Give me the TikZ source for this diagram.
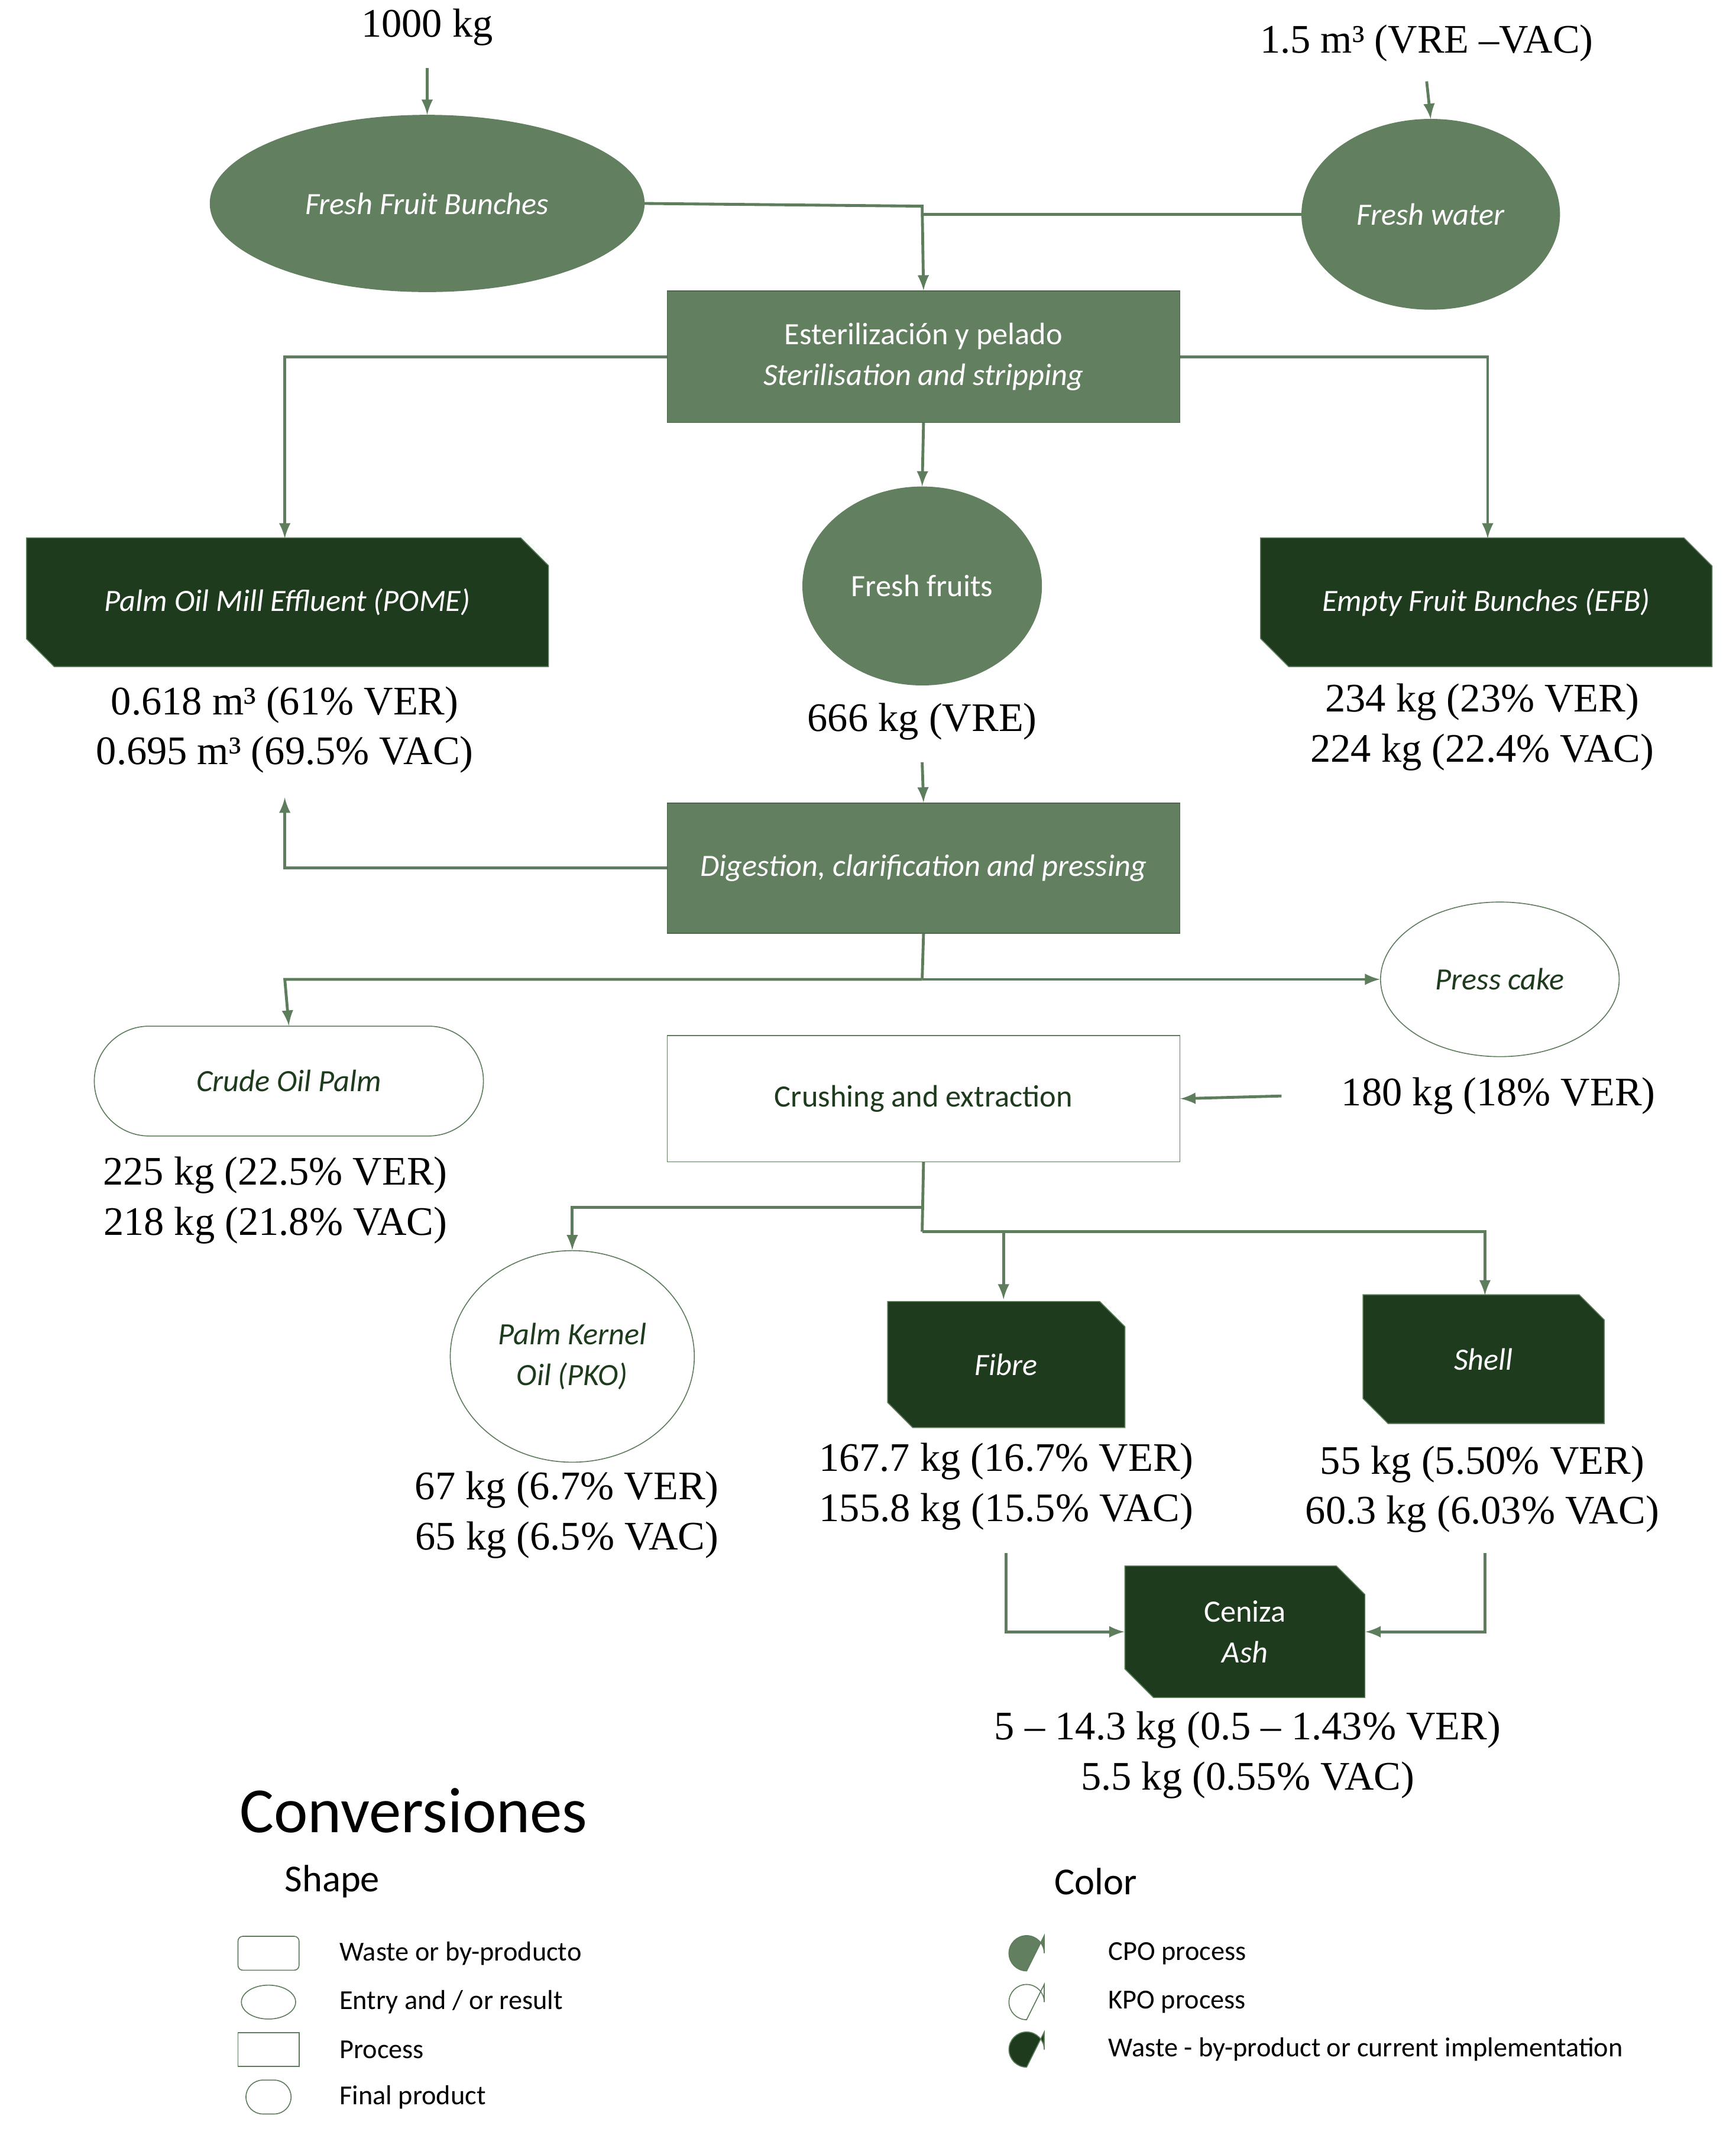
\documentclass[tikz,border=0pt]{standalone}
\usepackage{fontspec}
\setmainfont{Liberation Serif}
\newfontfamily\boxfont{Carlito}
\usetikzlibrary{shapes.geometric, shapes.misc}
\definecolor{cpo}{HTML}{62805F}
\definecolor{waste}{HTML}{1E3B1E}
\definecolor{wire}{HTML}{5E7D5C}
\tikzset{
  box/.style      = {font=\boxfont\fontsize{13}{17}\selectfont, align=center, inner sep=0pt},
  cpoell/.style   = {box, ellipse, fill=cpo, draw=cpo, text=white},
  kpoell/.style   = {box, ellipse, fill=white, draw=wire, text=waste},
  proc/.style     = {box, rectangle, fill=cpo, draw=cpo!80!black, text=white},
  kproc/.style    = {box, rectangle, fill=white, draw=wire, text=waste},
  wastebox/.style = {box, chamfered rectangle, chamfered rectangle corners={north east, south west},
                     chamfered rectangle xsep=6pt, chamfered rectangle ysep=6pt,
                     fill=waste, draw=wire, text=white},
  final/.style    = {box, rounded rectangle, fill=white, draw=wire, text=waste},
  qty/.style      = {font=\fontsize{17}{21}\selectfont, align=center, inner sep=0pt},
  legend/.style   = {font=\boxfont\fontsize{11.5}{14}\selectfont, anchor=west, inner sep=0pt},
  flow/.style     = {draw=wire, line width=1.2pt, -latex}
}
\begin{document}
\begin{tikzpicture}[x=0.02cm, y=-0.02cm]
  \useasboundingbox (0,0) rectangle (1280,1574);

  % inputs
  \node[qty] (kgin) at (315,20) {1000 kg};
  \node[qty] (wtin) at (1052,32) {1.5 m³ (VRE –VAC)};
  \node[cpoell, minimum width=320\pgflinewidth, minimum width=6.4cm, minimum height=2.6cm] (ffb) at (315,150) {\itshape Fresh Fruit Bunches};
  \node[cpoell, minimum width=3.8cm, minimum height=2.8cm] (water) at (1055,158) {\itshape Fresh water};
  \draw[flow] (315,50) -- (ffb.north);
  \draw[flow] (1052,60) -- (water.north);

  % sterilisation
  \node[proc, minimum width=7.56cm, minimum height=1.94cm] (steril) at (681,263)
    {Esterilización y pelado\\\itshape Sterilisation and stripping};
  \draw[flow] (ffb.east) -- (680,152) -- (steril.north);
  \draw[wire, line width=1.2pt] (water.west) -- (680,158);

  \node[wastebox, minimum width=7.7cm, minimum height=1.9cm] (pome) at (212,444) {\itshape Palm Oil Mill Effluent (POME)};
  \node[wastebox, minimum width=6.66cm, minimum height=1.9cm] (efb) at (1096,444) {\itshape Empty Fruit Bunches (EFB)};
  \node[cpoell, minimum width=3.52cm, minimum height=2.92cm] (fruits) at (680,432) {Fresh fruits};
  \draw[flow] (steril.west) -- (210,263) -- (210,397);
  \draw[flow] (steril.east) -- (1097,263) -- (1097,397);
  \draw[flow] (steril.south) -- (fruits.north);

  \node[qty] (pomeq) at (210,538) {0.618 m³ (61\% VER)\\0.695 m³ (69.5\% VAC)};
  \node[qty] (fruitq) at (680,532) {666 kg (VRE)};
  \node[qty] (efbq) at (1093,536) {234 kg (23\% VER)\\224 kg (22.4\% VAC)};

  % digestion
  \node[proc, minimum width=7.56cm, minimum height=1.92cm] (digest) at (681,640) {\itshape Digestion, clarification and pressing};
  \draw[flow] (680,562) -- (digest.north);
  \draw[flow] (digest.west) -- (210,640) -- (210,588);
  \coordinate (split1) at (680,722);
  \node[final, minimum width=5.74cm, minimum height=1.62cm] (cpoil) at (213,797) {\itshape Crude Oil Palm};
  \node[kpoell, minimum width=3.52cm, minimum height=2.28cm] (cake) at (1106,722) {\itshape Press cake};
  \draw[wire, line width=1.2pt] (digest.south) -- (split1);
  \draw[flow] (split1) -- (210,722) -- (cpoil.north);
  \draw[flow] (split1) -- (cake.west);

  % crushing
  \node[kproc, minimum width=7.56cm, minimum height=1.86cm] (crush) at (681,810) {Crushing and extraction};
  \node[qty] (cakeq) at (1105,808) {180 kg (18\% VER)};
  \coordinate (cakein) at (945,808);
  \draw[flow] (cakein) -- (crush.east);
  \node[qty] (cpoq) at (203,885) {225 kg (22.5\% VER)\\218 kg (21.8\% VAC)};

  \node[kpoell, minimum width=3.6cm, minimum height=3.12cm] (pko) at (422,1000) {\itshape Palm Kernel\\\itshape Oil (PKO)};
  \node[wastebox, minimum width=3.5cm, minimum height=1.86cm] (fibre) at (742,1006) {\itshape Fibre};
  \node[wastebox, minimum width=3.56cm, minimum height=1.9cm] (shell) at (1094,1002) {\itshape Shell};
  \draw[wire, line width=1.2pt] (crush.south) -- (680,908);
  \draw[flow] (680,890) -- (422,890) -- (pko.north);
  \draw[flow] (680,908) -- (740,908) -- (740,958);
  \draw[flow] (740,908) -- (1095,908) -- (1095,955);

  \node[qty] (pkoq) at (418,1117) {67 kg (6.7\% VER)\\65 kg (6.5\% VAC)};
  \node[qty] (fibreq) at (742,1096) {167.7 kg (16.7\% VER)\\155.8 kg (15.5\% VAC)};
  \node[qty] (shellq) at (1093,1098) {55 kg (5.50\% VER)\\60.3 kg (6.03\% VAC)};

  % ash
  \node[wastebox, minimum width=3.54cm, minimum height=1.94cm] (ash) at (918,1203) {Ceniza\\\itshape Ash};
  \draw[flow] (742,1145) -- (742,1203) -- (ash.west);
  \draw[flow] (1095,1145) -- (1095,1203) -- (ash.east);
  \node[qty] (ashq) at (920,1294) {5 – 14.3 kg (0.5 – 1.43\% VER)\\5.5 kg (0.55\% VAC)};

  % legend
  \node[font=\boxfont\fontsize{27}{30}\selectfont, inner sep=0pt] (conv) at (305,1335) {Conversiones};
  \node[font=\boxfont\fontsize{16}{19}\selectfont, inner sep=0pt] (shape) at (245,1387) {Shape};
  \node[font=\boxfont\fontsize{16}{19}\selectfont, inner sep=0pt] (color) at (808,1387) {Color};

  \node[draw=wire, rounded corners=2pt, minimum width=0.9cm, minimum height=0.5cm] (lwaste) at (198,1440) {};
  \node[draw=wire, ellipse, minimum width=0.8cm, minimum height=0.5cm] (lentry) at (198,1476) {};
  \node[draw=wire, minimum width=0.9cm, minimum height=0.5cm] (lproc) at (198,1511) {};
  \node[draw=wire, rounded rectangle, minimum width=0.9cm, minimum height=0.5cm] (lfinal) at (198,1546) {};
  \node[legend] at (250,1440) {Waste or by-producto};
  \node[legend] at (250,1476) {Entry and / or result};
  \node[legend] at (250,1511) {Process};
  \node[legend] at (250,1546) {Final product};

  \foreach \y/\c/\t in {1440/cpo/CPO process, 1476/white/KPO process, 1511/waste/Waste - by-product or current implementation} {
    \draw[draw=wire, fill=\c] (770,\y-13) -- (770,\y) arc (0:-270:13) -- cycle;
    \node[legend] at (817,\y) {\t};
  }
\end{tikzpicture}
\end{document}
